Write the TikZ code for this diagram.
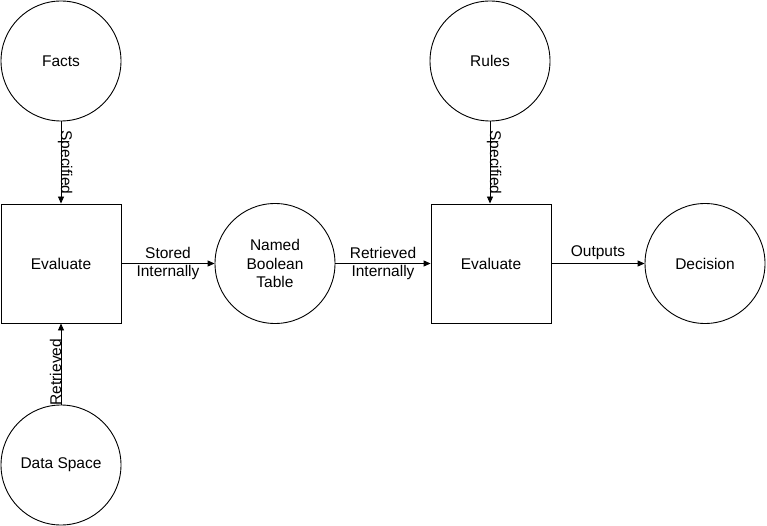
\documentclass[tikz,border=0pt]{standalone}
\usepackage{fontspec}
\setmainfont{Liberation Sans}
\usetikzlibrary{arrows.meta}
\begin{document}
\begin{tikzpicture}[x=1pt,y=-1pt,
  every node/.style={font=\fontsize{15.5}{18.5}\selectfont},
  circ/.style={draw,circle,minimum size=120pt,inner sep=0pt,line width=0.9pt,align=center},
  boxn/.style={draw,rectangle,minimum width=120pt,minimum height=119pt,inner sep=0pt,line width=0.9pt},
  conn/.style={line width=0.9pt,-{Triangle[length=7pt,width=6pt]}},
  vlab/.style={anchor=base,inner sep=0pt},
  hlab/.style={align=center,inner sep=0pt}]
\useasboundingbox (0,0) rectangle (767,526);
\fill[white] (0,0) rectangle (767,526);
\node[circ] (facts) at (61,61) {Facts};
\node[boxn] (eval1) at (61,263.5) {Evaluate};
\node[circ] (data) at (61,465) {Data Space};
\node[circ] (nbt) at (275,263.5) {Named\\Boolean\\Table};
\node[circ] (rules) at (490,61) {Rules};
\node[boxn] (eval2) at (491,263.5) {Evaluate};
\node[circ] (dec) at (705,263.5) {Decision};
\draw[conn] (facts.south) -- node[vlab,rotate=-90] {Specified} (facts.south |- eval1.north);
\draw[conn] (data.north) -- node[vlab,rotate=90,pos=0.4] {Retrieved} (data.north |- eval1.south);
\draw[conn] (eval1.east) -- node[hlab] {Stored\\Internally} (nbt.west);
\draw[conn] (nbt.east) -- node[hlab] {Retrieved\\Internally} (eval2.west);
\draw[conn] (rules.south) -- node[vlab,rotate=-90] {Specified} (rules.south |- eval2.north);
\draw[conn] (eval2.east) -- node[anchor=south,inner sep=3pt] {Outputs} (dec.west);
\end{tikzpicture}
\end{document}
